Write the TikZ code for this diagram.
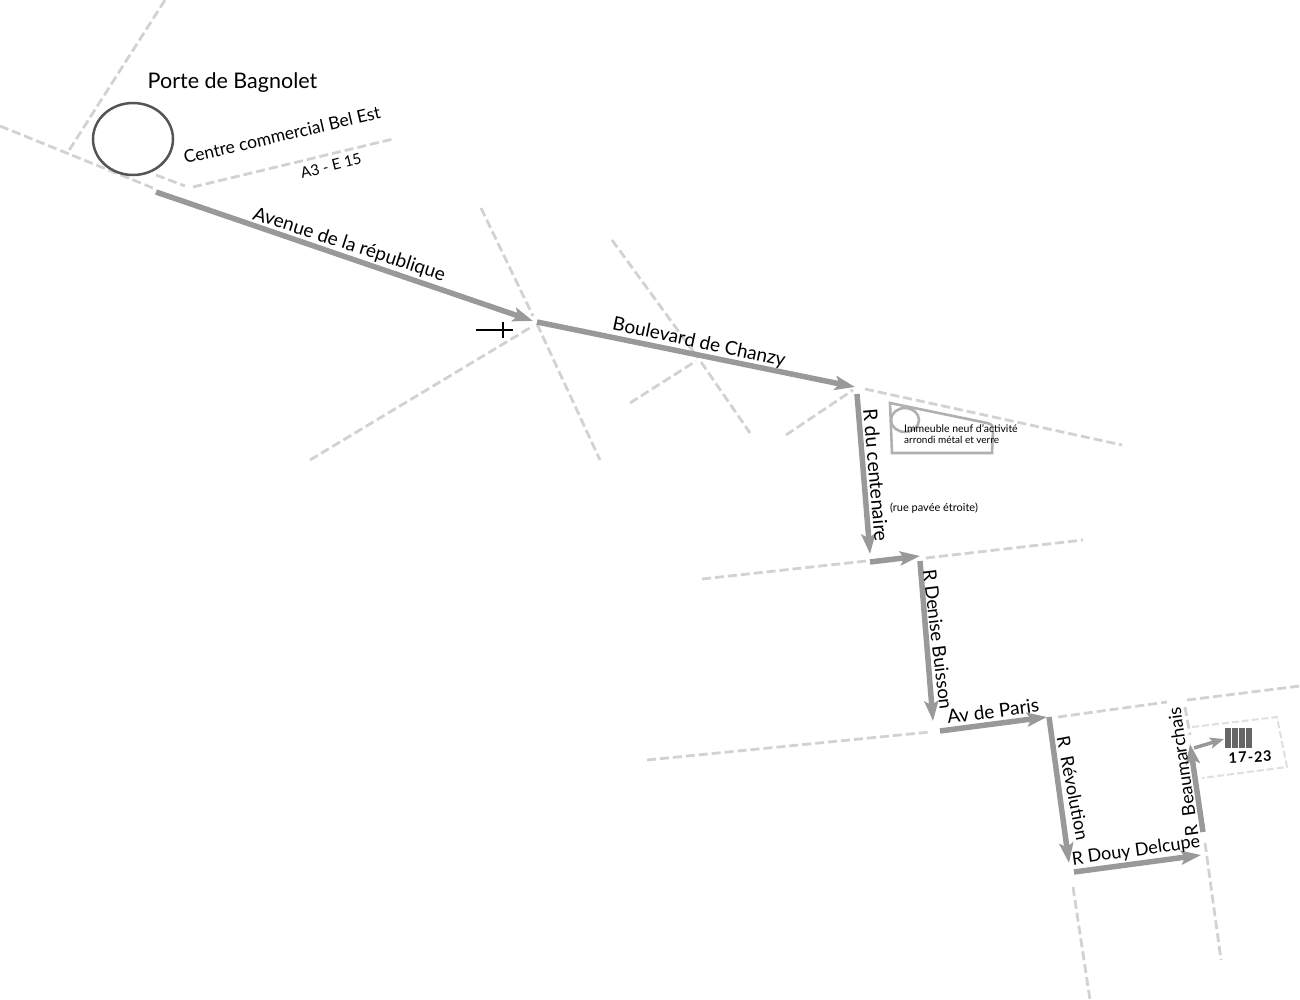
\documentclass[tikz,border=0pt]{standalone}
\usepackage{fontspec}
\setmainfont{Lato}
\usetikzlibrary{arrows.meta}
\definecolor{ruegris}{HTML}{D2D2D2}
\definecolor{routegris}{HTML}{999999}
\definecolor{batigris}{HTML}{B0B0B0}
\definecolor{fonce}{HTML}{555555}
\newcommand{\fs}[1]{\fontsize{#1}{#1}\selectfont}

\begin{document}
\begin{tikzpicture}[x=1pt, y=-1pt,
		rue/.style={ruegris, line width=2.8pt, dash pattern=on 9pt off 4pt},
		route/.style={routegris, line width=5.5pt, -{Stealth[length=20pt,width=14pt,inset=4pt]}},
		bati/.style={batigris, line width=2.6pt},
		lieu/.style={inner sep=0pt, black}]
	\useasboundingbox (0,0) rectangle (1300,1000);
	% rues
	\draw[rue] (165,0) -- (68,152);
	\draw[rue] (0,126) -- (153,188);
	\draw[rue] (156,175) -- (185,186);
	\draw[rue] (193,187) -- (393,139);
	\draw[rue] (481,208) -- (533,316);
	\draw[rue] (537,324) -- (600,460);
	\draw[rue] (310,460) -- (533,326);
	\draw[rue] (612,240) -- (698,358);
	\draw[rue] (701,362) -- (750,433);
	\draw[rue] (630,403) -- (696,361);
	\draw[rue] (786,435) -- (853,390);
	\draw[rue] (865,389) -- (1122,445);
	\draw[rue] (702,579) -- (866,561);
	\draw[rue] (926,558) -- (1083,540);
	\draw[rue] (647,760) -- (930,732);
	\draw[rue] (1058,717) -- (1167,702);
	\draw[rue] (1187,700) -- (1300,686);
	\draw[rue] (1073,887) -- (1090,1000);
	\draw[rue] (1185,707) -- (1190,735);
	\draw[rue] (1205,843) -- (1221,960);
	% destination
	\draw[ruegris!70, line width=2pt, dash pattern=on 7pt off 3pt] (1192,727) -- (1277,717) -- (1287,767) -- (1202,778);
	\foreach \barre in {0,7,14,21}
		\fill[fonce!90] (1225+\barre,728) rectangle (1231+\barre,748);
	\node[lieu, rotate=3] (numero) at (1250,757) {\fs{14.5}\bfseries 1\kern1.5pt7\kern1pt-\kern1pt2\kern.5pt3};
	% itineraire
	\coordinate (p1) at (156,192);
	\coordinate (p2) at (533,321);
	\coordinate (p3) at (537,322);
	\coordinate (p4) at (855,387);
	\coordinate (p5) at (857,394);
	\coordinate (p6) at (870,554);
	\coordinate (p7) at (870,562);
	\coordinate (p8) at (920,556);
	\coordinate (p9) at (920,561);
	\coordinate (p10) at (933,721);
	\coordinate (p11) at (940,731);
	\coordinate (p12) at (1047,717);
	\coordinate (p13) at (1049,717);
	\coordinate (p14) at (1069,863);
	\coordinate (p15) at (1074,872);
	\coordinate (p16) at (1201,855);
	\coordinate (p17) at (1203,832);
	\coordinate (p18) at (1190,744);
	\coordinate (p19) at (1194,748);
	\coordinate (p20) at (1224,739);
	\draw[route] (p1) -- (p2);
	\draw[route] (p3) -- (p4);
	\draw[route] (p5) -- (p6);
	\draw[route] (p7) -- (p8);
	\draw[route] (p9) -- (p10);
	\draw[route] (p11) -- (p12);
	\draw[route] (p13) -- (p14);
	\draw[route] (p15) -- (p16);
	\draw[route] (p17) -- (p18);
	\draw[route, line width=3.5pt, -{Stealth[length=14pt,width=11pt,inset=3pt]}] (p19) -- (p20);
	% porte de Bagnolet
	\draw[fonce, line width=2.5pt] (133,139) ellipse (40 and 36);
	\node[lieu] (porte) at (232.5,83) {\fs{21.5}Porte de Bagnolet};
	\node[lieu, rotate=13] (centre) at (282,135) {\fs{17.5}Centre commercial Bel Est};
	\node[lieu, rotate=14] (autoroute) at (331,166) {\fs{15}A3 - E 15};
	% feu
	\draw[black, line width=2pt] (476,330) -- (513,330);
	\draw[black, line width=2pt] (503,322) -- (503,338);
	% immeuble
	\draw[bati] (890,403) -- (892,453) -- (992,453) -- (993,430) .. controls (993,425) and (991,424) .. (987,423) -- cycle;
	\draw[bati] (905,420) ellipse (14 and 12);
	\node[lieu, anchor=north west, align=left] (immeuble) at (904,424.5) {\fs{10.5}Immeuble neuf d'activité\\[-1.5pt]arrondi métal et verre};
	\node[lieu] (pavee) at (934,508) {\fs{11}(rue pavée étroite)};
	% noms des rues
	\node[lieu, rotate=-18] (republique) at (349,245) {\fs{19}Avenue de la république};
	\node[lieu, rotate=-12] (chanzy) at (699,343) {\fs{19}Boulevard de Chanzy};
	\node[lieu, rotate=-85] (centenaire) at (876,475) {\fs{19.5}R du centenaire};
	\node[lieu, rotate=-83] (denise) at (938,639) {\fs{18.5}R Denise Buisson};
	\node[lieu, rotate=7.5] (paris) at (993,711) {\fs{19}Av de Paris};
	\node[lieu, rotate=-79] (revolution) at (1073,788) {\fs{18}R\ \ Révolution};
	\node[lieu, rotate=8] (douy) at (1136,851) {\fs{18}R Douy Delcupe};
	\node[lieu, rotate=98] (beaumarchais) at (1183,772) {\fs{18}R\ \ Beaumarchais};
\end{tikzpicture}
\end{document}
